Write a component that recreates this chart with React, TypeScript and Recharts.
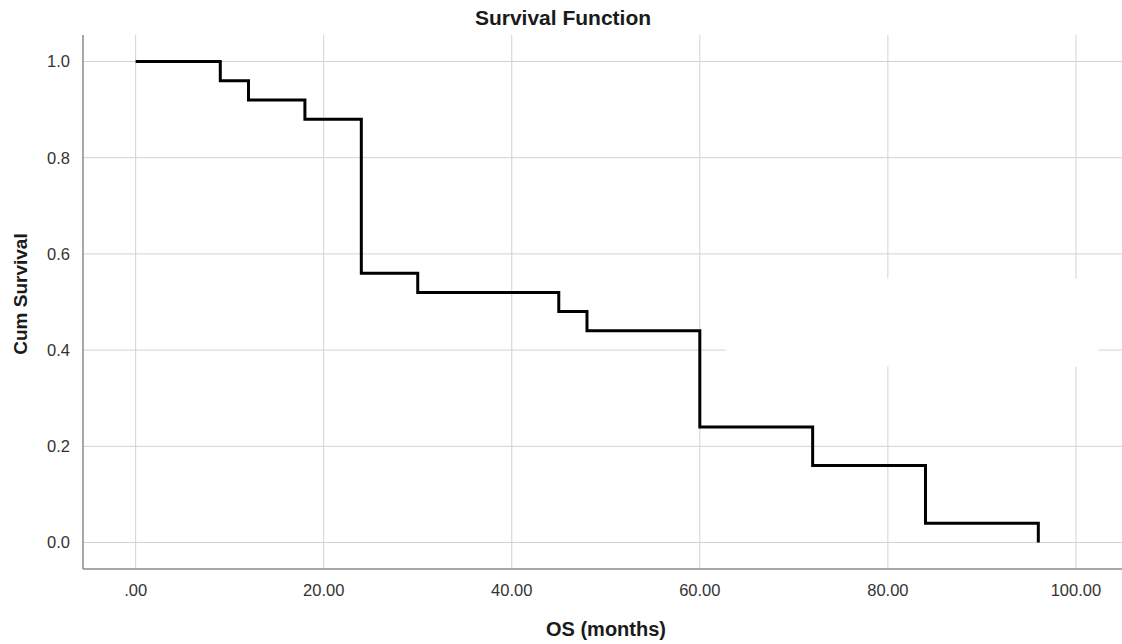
import { LineChart, Line, XAxis, YAxis, CartesianGrid, ReferenceArea, Label } from 'recharts';

const months = [0, 9, 12, 18, 24, 30, 45, 48, 60, 72, 84, 96];
const survival = [1.0, 0.96, 0.92, 0.88, 0.56, 0.52, 0.48, 0.44, 0.24, 0.16, 0.04, 0.0];
const xTicks = [0, 20, 40, 60, 80, 100];
const yTicks = [0, 0.2, 0.4, 0.6, 0.8, 1.0];

const data = months.map((m, i) => ({ os: m, cum: survival[i] }));

const font = 'Arial, "Liberation Sans", sans-serif';

export default function App() {
  return (
    <div style={{ position: 'absolute', left: 0, top: 0, width: 1122, height: 644, background: '#fff', fontFamily: font }}>
      <div style={{ position: 'absolute', top: 7, left: 463, width: 200, textAlign: 'center', fontSize: 21, lineHeight: '21px', fontWeight: 'bold', color: '#1a1a1a', whiteSpace: 'nowrap' }}>
        Survival Function
      </div>
      <div style={{ position: 'absolute', top: 619, left: 506, width: 200, textAlign: 'center', fontSize: 20, lineHeight: '20px', fontWeight: 'bold', color: '#1a1a1a', whiteSpace: 'nowrap' }}>
        OS (months)
      </div>
      <LineChart width={1122} height={644} data={data} margin={{ top: 35, right: 0, left: 0, bottom: 0 }}>
        <CartesianGrid stroke="#d2d2d2" strokeWidth={1} horizontalValues={yTicks} verticalValues={xTicks} />
        {/* blank box where the legend was cut away */}
        <ReferenceArea x1={62.8} x2={102.4} y1={0.366} y2={0.549} fill="#fff" fillOpacity={1} stroke="none" ifOverflow="visible" />
        <XAxis
          type="number"
          dataKey="os"
          domain={[-5.6, 104.9]}
          ticks={xTicks}
          tickFormatter={(v: number) => (v === 0 ? '.00' : v.toFixed(2))}
          tick={{ fill: '#333', fontSize: 16.5, fontFamily: font }}
          tickLine={false}
          tickMargin={9}
          axisLine={{ stroke: '#8a8a8a', strokeWidth: 1.5 }}
          height={75}
          allowDataOverflow
        />
        <YAxis
          type="number"
          domain={[-0.055, 1.055]}
          ticks={yTicks}
          tickFormatter={(v: number) => v.toFixed(1)}
          tick={{ fill: '#333', fontSize: 16.5, fontFamily: font }}
          tickLine={false}
          tickMargin={7}
          axisLine={{ stroke: '#8a8a8a', strokeWidth: 1.5 }}
          width={83}
          allowDataOverflow
        >
          <Label value="Cum Survival" angle={-90} position="insideLeft" offset={20} dy={-8} style={{ fontSize: 19, fontWeight: 'bold', fill: '#1a1a1a', fontFamily: font, textAnchor: 'middle' }} />
        </YAxis>
        <Line
          type="stepAfter"
          dataKey="cum"
          stroke="#000"
          strokeWidth={3}
          dot={false}
          activeDot={false}
          isAnimationActive={false}
        />
      </LineChart>
    </div>
  );
}
